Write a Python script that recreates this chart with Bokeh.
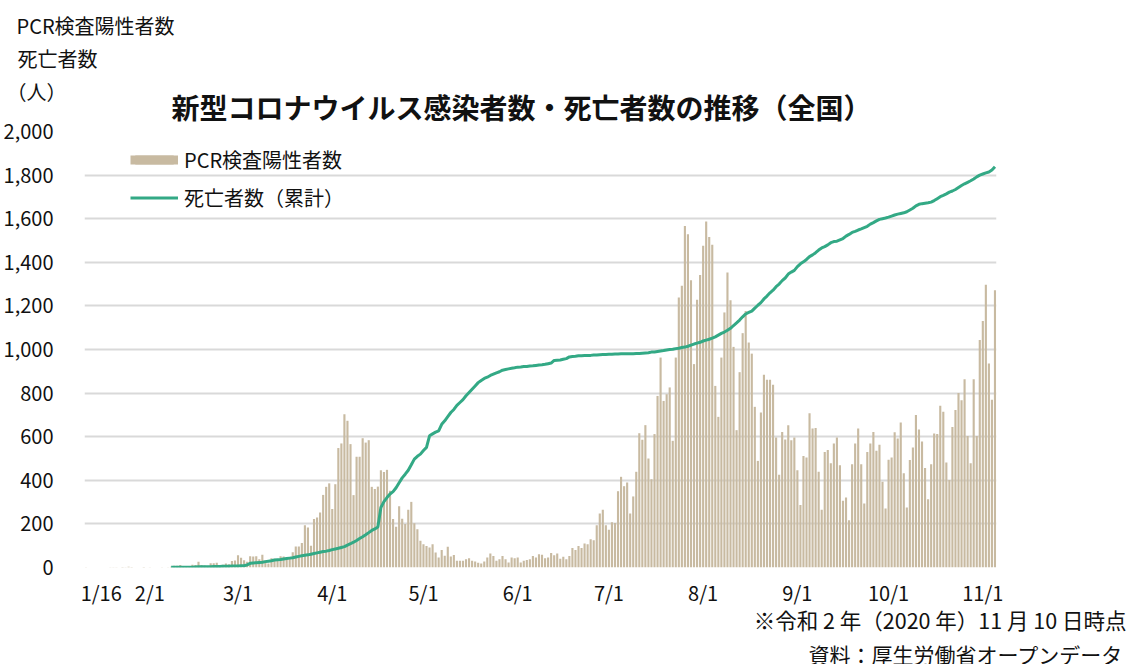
from bokeh.plotting import figure
from bokeh.layouts import column
from bokeh.models import (Range1d, FixedTicker, NumeralTickFormatter, Legend,
                          LegendItem, Label)
from bokeh.embed import file_html
from bokeh.resources import INLINE

FONT = "Noto Sans CJK JP"
BAR = "#c8baa1"
GREEN = "#33a985"
GRID = "#d9d9d9"
TXT = "#111111"

# x = day index counted from 2020-01-16
tick_days = [0, 16, 45, 76, 106, 137, 167, 198, 229, 259, 290]
tick_labels = ["1/16", "2/1", "3/1", "4/1", "5/1", "6/1", "7/1", "8/1", "9/1", "10/1", "11/1"]
label_shift = 5  # the reference prints its date labels ~5 days right of the date

# daily PCR positives, 1/16 .. 11/10
cases = [
    1, 0, 0, 0, 0, 0, 0, 0, 1, 1,
    1, 0, 2, 1, 3, 2, 0, 0, 0, 2,
    0, 1, 0, 0, 0, 1, 0, 1, 4, 8,
    8, 11, 6, 7, 3, 13, 12, 26, 12, 9,
    7, 20, 20, 22, 12, 13, 18, 15, 30, 32,
    56, 45, 33, 26, 52, 50, 52, 38, 58, 32,
    18, 42, 40, 38, 52, 50, 38, 42, 70, 96,
    96, 112, 194, 184, 100, 222, 229, 252, 333, 370,
    386, 268, 382, 548, 569, 703, 673, 566, 332, 508,
    508, 593, 573, 584, 370, 360, 371, 446, 438, 448,
    352, 222, 187, 281, 224, 199, 265, 301, 203, 176,
    123, 107, 99, 92, 107, 69, 46, 80, 54, 95,
    51, 57, 31, 31, 31, 38, 42, 31, 28, 22,
    18, 28, 46, 64, 53, 31, 38, 53, 38, 23,
    46, 42, 46, 23, 31, 34, 38, 53, 46, 61,
    58, 42, 46, 66, 56, 64, 40, 49, 38, 53,
    89, 80, 99, 89, 110, 107, 130, 125, 194, 248,
    265, 194, 173, 207, 204, 350, 416, 373, 390, 248,
    326, 439, 616, 586, 653, 500, 405, 612, 787, 963,
    764, 795, 826, 581, 963, 1238, 1292, 1567, 1529, 1318,
    933, 1228, 1342, 1476, 1587, 1516, 1480, 833, 691, 963,
    1170, 1353, 1226, 1012, 630, 896, 1075, 1177, 1032, 981,
    737, 489, 711, 884, 861, 861, 838, 596, 425, 622,
    587, 653, 584, 596, 446, 287, 512, 505, 707, 638,
    640, 439, 265, 530, 539, 478, 569, 596, 469, 306,
    321, 217, 474, 569, 638, 474, 294, 530, 569, 622,
    535, 563, 393, 271, 494, 505, 620, 592, 665, 432,
    275, 493, 551, 700, 633, 578, 456, 313, 474, 615,
    612, 742, 714, 482, 401, 645, 722, 800, 767, 864,
    603, 478, 864, 603, 1044, 1131, 1297, 936, 769, 1272,
]

# cumulative deaths, from day 28 (2/13) .. 11/10
death_start = 28
deaths = [
    1, 1, 1, 1, 1, 1, 1, 1, 2, 3,
    3, 3, 4, 4, 5, 5, 5, 6, 6, 6,
    7, 7, 7, 8, 8, 12, 19, 21, 22, 23,
    24, 27, 29, 31, 34, 36, 37, 39, 41, 43,
    45, 48, 51, 54, 56, 58, 61, 64, 67, 70,
    73, 75, 78, 82, 85, 88, 92, 96, 103, 109,
    116, 124, 133, 141, 150, 160, 170, 177, 186, 275,
    302, 321, 337, 348, 366, 389, 411, 428, 446, 471,
    497, 510, 520, 537, 551, 604, 613, 621, 627, 657,
    673, 692, 711, 725, 744, 757, 770, 788, 803, 818,
    833, 848, 858, 867, 873, 881, 887, 893, 898, 905,
    908, 911, 914, 916, 919, 920, 922, 922, 924, 925,
    927, 929, 930, 932, 935, 938, 950, 951, 952, 955,
    958, 966, 968, 969, 971, 971, 972, 972, 973, 975,
    975, 976, 977, 977, 978, 978, 979, 979, 980, 980,
    980, 981, 981, 982, 982, 983, 984, 985, 988, 989,
    991, 993, 995, 998, 1000, 1001, 1004, 1006, 1009, 1011,
    1015, 1020, 1025, 1029, 1033, 1039, 1043, 1047, 1052, 1058,
    1066, 1074, 1080, 1088, 1097, 1110, 1122, 1135, 1150, 1163,
    1170, 1176, 1190, 1203, 1215, 1232, 1245, 1260, 1272, 1288,
    1300, 1316, 1328, 1346, 1355, 1363, 1380, 1393, 1402, 1413,
    1426, 1434, 1444, 1456, 1466, 1472, 1480, 1490, 1495, 1497,
    1503, 1509, 1520, 1528, 1537, 1542, 1548, 1553, 1559, 1565,
    1575, 1582, 1590, 1597, 1600, 1603, 1607, 1612, 1617, 1621,
    1624, 1627, 1632, 1640, 1648, 1659, 1666, 1669, 1671, 1673,
    1676, 1683, 1692, 1701, 1707, 1714, 1722, 1727, 1734, 1743,
    1752, 1760, 1767, 1774, 1782, 1792, 1800, 1805, 1810, 1814,
    1823, 1838,
]

y_ticks = list(range(0, 2001, 200))

days = list(range(len(cases)))
death_days = list(range(death_start, death_start + len(deaths)))

W = 1128
TOP_H = 123
MAIN_TOP, FRAME_H, MAIN_BOTTOM = 8, 436, 42
MAIN_H = MAIN_TOP + FRAME_H + MAIN_BOTTOM
BOT_Y0 = TOP_H + MAIN_H
BOT_H = 664 - BOT_Y0


def text_strip(h, y0):
    f = figure(width=W, height=h, output_backend="svg", toolbar_location=None,
               x_range=Range1d(0, W), y_range=Range1d(y0 + h, y0),
               x_axis_location=None, y_axis_location=None, min_border=0,
               frame_align=False)
    f.outline_line_color = None
    f.grid.grid_line_color = None
    return f


def lab(f, text, x, y, size="20px", align="left", style="normal"):
    f.add_layout(Label(x=x, y=y, text=text, text_font=FONT, text_font_size=size,
                       text_color=TXT, text_align=align, text_baseline="middle",
                       text_font_style=style))


# ---- top strip: axis caption + title
top = text_strip(TOP_H, 0)
lab(top, "PCR検査陽性者数", 16, 25)
lab(top, "死亡者数", 17, 58)
lab(top, "（人）", 6, 91)
lab(top, "新型コロナウイルス感染者数・死亡者数の推移（全国）", 171, 106,
    size="28px", style="bold")

# ---- main chart
p = figure(width=W, height=MAIN_H, output_backend="svg", toolbar_location=None,
           x_range=Range1d(-0.5, len(cases) - 0.5), y_range=Range1d(0, 2000),
           min_border_left=83, min_border_right=132, min_border_top=MAIN_TOP,
           min_border_bottom=MAIN_BOTTOM, frame_align=False)
p.outline_line_color = None

bars = p.vbar(x=days, top=cases, width=0.7, fill_color=BAR, line_color=None)
line = p.line(x=death_days, y=deaths, line_color=GREEN, line_width=3)
# invisible proxy (one NaN point) so the bar legend swatch is a full 48x9 block
swatch = p.line(x=[float("nan")], y=[float("nan")], line_color=BAR, line_width=9)

p.xgrid.grid_line_color = None
p.ygrid.grid_line_color = GRID
p.ygrid.grid_line_width = 2
p.yaxis.ticker = FixedTicker(ticks=y_ticks)
p.yaxis.formatter = NumeralTickFormatter(format="0,0")
p.yaxis.axis_line_color = None
p.yaxis.major_tick_line_color = None
p.yaxis.minor_tick_line_color = None
p.yaxis.major_label_standoff = 25
p.yaxis.major_label_text_font = FONT
p.yaxis.major_label_text_font_size = "20px"
p.yaxis.major_label_text_color = TXT

xt = [d + label_shift for d in tick_days]
p.xaxis.ticker = FixedTicker(ticks=xt)
p.xaxis.major_label_overrides = {t: l for t, l in zip(xt, tick_labels)}
p.xaxis.axis_line_color = None
p.xaxis.major_tick_line_color = None
p.xaxis.minor_tick_line_color = None
p.xaxis.major_label_standoff = 4
p.xaxis.major_label_text_font = FONT
p.xaxis.major_label_text_font_size = "20px"
p.xaxis.major_label_text_color = TXT

legend = Legend(items=[LegendItem(label="PCR検査陽性者数", renderers=[bars, swatch]),
                       LegendItem(label="死亡者数（累計）", renderers=[line])],
                location=(46, 355), orientation="vertical",
                padding=0, margin=0, spacing=9, label_height=20,
                glyph_width=48, glyph_height=11, label_standoff=6,
                label_text_font=FONT, label_text_font_size="20px",
                label_text_color=TXT, border_line_color=None,
                background_fill_alpha=0)
p.add_layout(legend, "center")

# ---- bottom strip: notes
bottom = text_strip(BOT_H, BOT_Y0)
lab(bottom, "※令和 2 年（2020 年）11 月 10 日時点", 1126, 619, size="21.5px", align="right")
lab(bottom, "資料：厚生労働省オープンデータ", 1123, 653, size="21px", align="right")

layout = column(top, p, bottom, spacing=0)
open("out.html", "w").write(file_html(layout, INLINE))
